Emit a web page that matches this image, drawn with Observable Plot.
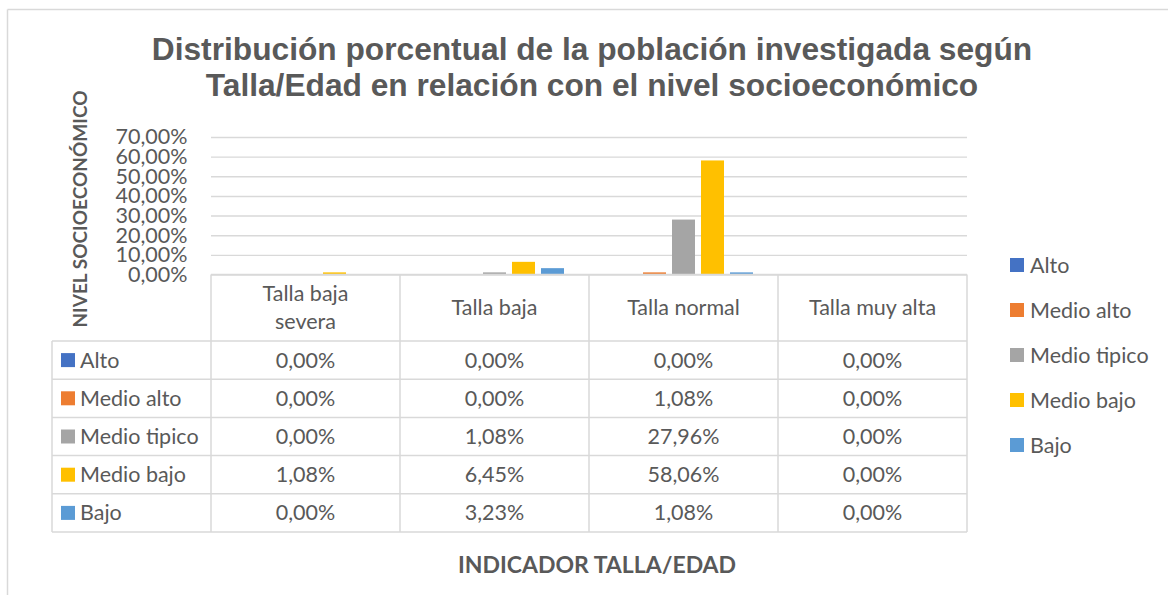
<!DOCTYPE html>
<html>
<head>
<meta charset="utf-8">
<script src="https://cdn.jsdelivr.net/npm/d3@7"></script>
<script src="https://cdn.jsdelivr.net/npm/@observablehq/plot@0.6"></script>
<style>
  html, body { margin: 0; padding: 0; background: #fff; }
  #chart { position: relative; width: 1168px; height: 595px; overflow: hidden; }
  svg { display: block; }
</style>
</head>
<body>
<div id="chart"></div>
<script>
const categories = ["Talla baja severa", "Talla baja", "Talla normal", "Talla muy alta"];
const series = ["Alto", "Medio alto", "Medio tipico", "Medio bajo", "Bajo"];
const altoValues = [0.00, 0.00, 0.00, 0.00];
const medioAltoValues = [0.00, 0.00, 1.08, 0.00];
const medioTipicoValues = [0.00, 1.08, 27.96, 0.00];
const medioBajoValues = [1.08, 6.45, 58.06, 0.00];
const bajoValues = [0.00, 3.23, 1.08, 0.00];
const yTicks = [0, 10, 20, 30, 40, 50, 60, 70];
const seriesColors = ["#4472C4", "#ED7D31", "#A5A5A5", "#FFC000", "#5B9BD5"];
const titleLines = ["Distribución porcentual de la población investigada según", "Talla/Edad en relación con el nivel socioeconómico"];
const yTitle = "NIVEL SOCIOECONÓMICO";
const xTitle = "INDICADOR TALLA/EDAD";

const valuesBySeries = [altoValues, medioAltoValues, medioTipicoValues, medioBajoValues, bajoValues];
const data = [];
series.forEach((s, i) => categories.forEach((c, j) => data.push({series: s, category: c, value: valuesBySeries[i][j]})));

const fmt = v => v.toFixed(2).replace(".", ",") + "%";
const TXT = "#595959";
const GRID = "#d9d9d9";
const bodyFont = "Lato, 'Open Sans', sans-serif";

const chart = Plot.plot({
  width: 1168,
  height: 595,
  marginTop: 137,
  marginBottom: 320.5,
  marginLeft: 210,
  marginRight: 200,
  style: {fontFamily: bodyFont, color: TXT, background: "#fff", overflow: "visible"},
  fx: {domain: categories, padding: 0, axis: null, label: null},
  x: {domain: series, paddingInner: 0.215, paddingOuter: 0.84, axis: null, label: null},
  y: {domain: [0, 70], axis: null, label: null},
  color: {domain: series, range: seriesColors},
  marks: [
    Plot.gridY(yTicks, {stroke: GRID, strokeOpacity: 1, strokeWidth: 1.4}),
    Plot.axisY(yTicks, {tickSize: 0, tickPadding: 24, tickFormat: fmt, fontSize: 21.5, fill: TXT, label: null, facetAnchor: "left"}),
    Plot.barY(data, {fx: "category", x: "series", y: "value", fill: "series"})
  ]
});
document.getElementById("chart").appendChild(chart);

const svg = d3.select(chart);
const fxs = chart.scale("fx");
const cs = chart.scale("color");
const ys = chart.scale("y");
const bw = fxs.bandwidth;
const tableLeft = 52;
const tableTop = ys.apply(0);
const headerBottom = 341;
const rowH = 38.2;
const tableRight = fxs.apply(categories[categories.length - 1]) + bw;
const plotLeft = fxs.apply(categories[0]);
const tableBottom = headerBottom + rowH * series.length;

// outer chart border
const g0 = svg.append("g").attr("stroke", GRID).attr("stroke-width", 1.5).attr("fill", "none");
g0.append("line").attr("x1", 7.5).attr("x2", 1168).attr("y1", 9.5).attr("y2", 9.5);
g0.append("line").attr("x1", 7.5).attr("x2", 7.5).attr("y1", 9.5).attr("y2", 595);

// title
const tg = svg.append("g").attr("font-family", "'Liberation Sans', Arial, sans-serif").attr("font-weight", "bold")
  .attr("font-size", 31.7).attr("fill", TXT).attr("text-anchor", "middle");
titleLines.forEach((t, i) => tg.append("text").attr("x", 592).attr("y", 59.5 + i * 36).text(t));

// y title
svg.append("text").attr("transform", `translate(87,209) rotate(-90)`).attr("text-anchor", "middle")
  .attr("font-family", bodyFont).attr("font-weight", "bold").attr("font-size", 19).attr("fill", TXT).text(yTitle);

// x title
svg.append("text").attr("x", 597).attr("y", 573).attr("text-anchor", "middle")
  .attr("font-family", bodyFont).attr("font-weight", "bold").attr("font-size", 23).attr("fill", TXT).text(xTitle);

// data table
const tb = svg.append("g");
const lines = tb.append("g").attr("stroke", GRID).attr("stroke-width", 1.5);
lines.append("line").attr("x1", plotLeft).attr("x2", tableRight).attr("y1", tableTop).attr("y2", tableTop);
for (let r = 0; r <= series.length; r++) {
  const y = headerBottom + r * rowH;
  lines.append("line").attr("x1", tableLeft).attr("x2", tableRight).attr("y1", y).attr("y2", y);
}
lines.append("line").attr("x1", tableLeft).attr("x2", tableLeft).attr("y1", headerBottom).attr("y2", tableBottom);
categories.forEach(c => {
  const x = fxs.apply(c);
  lines.append("line").attr("x1", x).attr("x2", x).attr("y1", tableTop).attr("y2", tableBottom);
});
lines.append("line").attr("x1", tableRight).attr("x2", tableRight).attr("y1", tableTop).attr("y2", tableBottom);

const tt = tb.append("g").attr("font-family", bodyFont).attr("font-size", 21.5).attr("fill", TXT);
const headerMid = (tableTop + headerBottom) / 2;
categories.forEach(c => {
  const cx = fxs.apply(c) + bw / 2;
  const t = tt.append("text").attr("x", cx).attr("text-anchor", "middle").attr("y", headerMid + 7.5).text(c);
  if (t.node().getComputedTextLength() > bw * 0.75) {
    const words = c.split(" ");
    const last = words.pop();
    t.text(null).attr("y", headerMid - 6.5);
    t.append("tspan").attr("x", cx).attr("dy", 0).text(words.join(" "));
    t.append("tspan").attr("x", cx).attr("dy", 28).text(last);
  }
});
series.forEach((s, i) => {
  const yMid = headerBottom + i * rowH + rowH / 2;
  tb.append("rect").attr("x", 61).attr("y", yMid - 7).attr("width", 14).attr("height", 14).attr("fill", cs.apply(s));
  tt.append("text").attr("x", 80).attr("y", yMid + 7.5).attr("text-anchor", "start").text(s);
  categories.forEach((c, j) => {
    tt.append("text").attr("x", fxs.apply(c) + bw / 2).attr("y", yMid + 7.5).attr("text-anchor", "middle")
      .text(fmt(valuesBySeries[i][j]));
  });
});

// right legend
const lg = svg.append("g").attr("font-family", bodyFont).attr("font-size", 21.5).attr("fill", TXT).attr("text-anchor", "start");
series.forEach((s, i) => {
  const y = 265 + i * 45;
  lg.append("rect").attr("x", 1010).attr("y", y - 7).attr("width", 14).attr("height", 14).attr("fill", cs.apply(s));
  lg.append("text").attr("x", 1030).attr("y", y + 7.5).text(s);
});
</script>
</body>
</html>
